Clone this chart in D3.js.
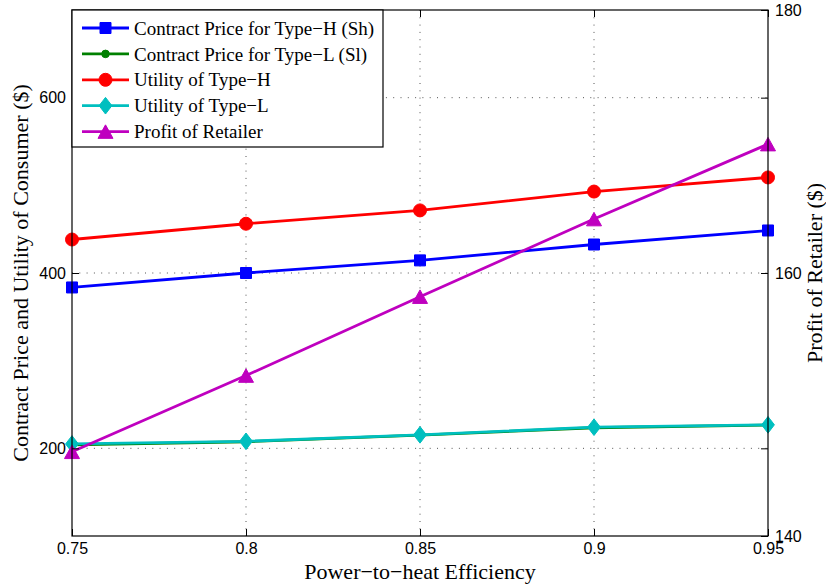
<!DOCTYPE html>
<html>
<head>
<meta charset="utf-8">
<script src="https://cdn.jsdelivr.net/npm/d3@7"></script>
<style>
  html, body { margin: 0; padding: 0; background: #fff; }
  .tick text { font-family: "Liberation Sans", Arial, sans-serif; font-size: 16px; fill: #000; }
  .title { font-family: "Liberation Serif", "Times New Roman", serif; font-size: 22px; fill: #000; }
  .legend text { font-family: "Liberation Serif", "Times New Roman", serif; font-size: 19px; fill: #000; }
</style>
</head>
<body>
<div id="chart"></div>
<script>
// values
const efficiency = [0.75, 0.8, 0.85, 0.9, 0.95];
const priceH   = [383.5, 400, 414.4, 432.5, 448.5];
const priceL   = [204, 207.5, 215, 223.5, 226.5];
const utilityH = [438.2, 456.2, 471.4, 492.9, 509];
const utilityL = [205, 208, 215.4, 224.1, 226.8];
const profit   = [146.4, 152.2, 158.2, 164.1, 169.8];

const xTicks = [0.75, 0.8, 0.85, 0.9, 0.95];
const leftTicks = [200, 400, 600];
const rightTicks = [140, 160, 180];
const names = [
    'Contract Price for Type\u2212H (Sh)',
    'Contract Price for Type\u2212L (Sl)',
    'Utility of Type\u2212H',
    'Utility of Type\u2212L',
    'Profit of Retailer'
];

const width = 826, height = 588;
const box = { left: 72, right: 768, top: 10, bottom: 536 };

const svg = d3.select('#chart').append('svg')
    .attr('width', width)
    .attr('height', height);

const x = d3.scaleLinear().domain([0.75, 0.95]).range([box.left, box.right]);
const yLeft = d3.scaleLinear().domain([100, 700]).range([box.bottom, box.top]);
const yRight = d3.scaleLinear().domain([140, 180]).range([box.bottom, box.top]);

// matlab-ish marker shapes
const squareMark = { draw(ctx, s) { const h = s / 2; ctx.rect(-h, -h, s, s); } };
const circleMark = { draw(ctx, s) { ctx.moveTo(s, 0); ctx.arc(0, 0, s, 0, 2 * Math.PI); } };
const diamondMark = { draw(ctx, s) {
    ctx.moveTo(0, -s * 1.3); ctx.lineTo(s, 0); ctx.lineTo(0, s * 1.3); ctx.lineTo(-s, 0); ctx.closePath();
} };
const triangleMark = { draw(ctx, s) {
    ctx.moveTo(0, -s * 0.9); ctx.lineTo(s, s * 0.9); ctx.lineTo(-s, s * 0.9); ctx.closePath();
} };

const series = [
    { name: names[0], values: priceH, color: '#0000ff', mark: squareMark, size: 11, y: yLeft },
    { name: names[1], values: priceL, color: '#008000', mark: circleMark, size: 3.8, y: yLeft },
    { name: names[2], values: utilityH, color: '#ff0000', mark: circleMark, size: 6.5, y: yLeft },
    { name: names[3], values: utilityL, color: '#00bfbf', mark: diamondMark, size: 6.4, y: yLeft },
    { name: names[4], values: profit, color: '#bf00bf', mark: triangleMark, size: 7.5, y: yRight }
];

// grid
const grid = svg.append('g')
    .attr('stroke', '#555')
    .attr('stroke-width', 1)
    .attr('stroke-dasharray', '1,6.3');
grid.selectAll('line.gx')
    .data(xTicks.slice(1, -1))
    .enter().append('line')
    .attr('x1', d => x(d)).attr('x2', d => x(d))
    .attr('y1', box.top).attr('y2', box.bottom);
grid.selectAll('line.gy')
    .data(leftTicks)
    .enter().append('line')
    .attr('x1', box.left).attr('x2', box.right)
    .attr('y1', d => yLeft(d)).attr('y2', d => yLeft(d));

// series lines + markers
series.forEach(s => {
    const pts = efficiency.map((e, i) => [x(e), s.y(s.values[i])]);
    svg.append('path')
        .attr('d', d3.line()(pts))
        .attr('fill', 'none')
        .attr('stroke', s.color)
        .attr('stroke-width', 2.8);
    svg.append('g').selectAll('path')
        .data(pts)
        .enter().append('path')
        .attr('transform', d => `translate(${d[0]},${d[1]})`)
        .attr('d', d3.symbol().type(s.mark).size(s.size))
        .attr('fill', s.color)
        .attr('stroke', s.color)
        .attr('stroke-width', 1);
});

// axes (ticks point inward)
svg.append('g')
    .attr('transform', `translate(0,${box.bottom})`)
    .call(d3.axisBottom(x).tickValues(xTicks).tickFormat(d => String(d))
        .tickSizeInner(-7).tickSizeOuter(0).tickPadding(7));
svg.append('g')
    .attr('transform', `translate(0,${box.top})`)
    .call(d3.axisTop(x).tickValues(xTicks).tickFormat('')
        .tickSizeInner(-7).tickSizeOuter(0));
svg.append('g')
    .attr('transform', `translate(${box.left},0)`)
    .call(d3.axisLeft(yLeft).tickValues(leftTicks)
        .tickSizeInner(-7).tickSizeOuter(0).tickPadding(6));
svg.append('g')
    .attr('transform', `translate(${box.right},0)`)
    .call(d3.axisRight(yLeft).tickValues(leftTicks).tickFormat('')
        .tickSizeInner(-7).tickSizeOuter(0));
svg.append('g')
    .attr('transform', `translate(${box.right},0)`)
    .call(d3.axisRight(yRight).tickValues(rightTicks)
        .tickSizeInner(-7).tickSizeOuter(0).tickPadding(7));
svg.selectAll('.domain').remove();
svg.selectAll('.tick line').attr('stroke', '#000');

svg.append('rect')
    .attr('x', box.left).attr('y', box.top)
    .attr('width', box.right - box.left).attr('height', box.bottom - box.top)
    .attr('fill', 'none').attr('stroke', '#000').attr('stroke-width', 1.2);

// titles
svg.append('text').attr('class', 'title')
    .attr('x', (box.left + box.right) / 2).attr('y', 579)
    .attr('text-anchor', 'middle')
    .text('Power\u2212to\u2212heat Efficiency');
svg.append('text').attr('class', 'title')
    .attr('transform', `translate(28,${(box.top + box.bottom) / 2}) rotate(-90)`)
    .attr('text-anchor', 'middle')
    .text('Contract Price and Utility of Consumer ($)');
svg.append('text').attr('class', 'title')
    .attr('transform', `translate(822,${(box.top + box.bottom) / 2}) rotate(-90)`)
    .attr('text-anchor', 'middle')
    .text('Profit of Retailer ($)');

// legend
const legend = svg.append('g').attr('class', 'legend');
legend.append('rect')
    .attr('x', box.left).attr('y', box.top)
    .attr('width', 311).attr('height', 137)
    .attr('fill', '#fff').attr('stroke', '#000').attr('stroke-width', 1.2);
const rows = legend.selectAll('g.row')
    .data(series)
    .enter().append('g')
    .attr('transform', (d, i) => `translate(0,${28 + i * 25.9})`);
rows.append('line')
    .attr('x1', 82).attr('x2', 129)
    .attr('stroke', d => d.color).attr('stroke-width', 2.8);
rows.append('path')
    .attr('transform', 'translate(105.5,0)')
    .attr('d', d => d3.symbol().type(d.mark).size(d.size)())
    .attr('fill', d => d.color).attr('stroke', d => d.color);
rows.append('text')
    .attr('x', 134).attr('dy', '0.35em')
    .text(d => d.name);
</script>
</body>
</html>
